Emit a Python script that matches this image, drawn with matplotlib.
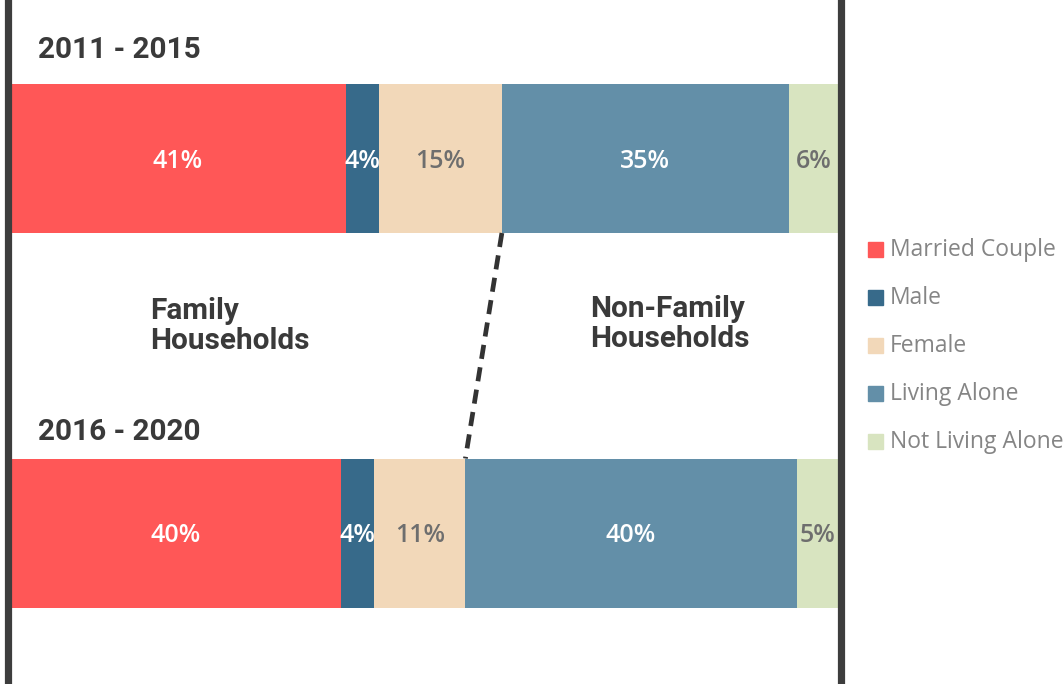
import matplotlib.pyplot as plt
from matplotlib.patches import Rectangle
import numpy as np

# Household composition shares (%) for the two survey periods
periods = ["2011 - 2015", "2016 - 2020"]
categories = ["Married Couple", "Male", "Female", "Living Alone", "Not Living Alone"]
shares_2011_2015 = [41, 4, 15, 35, 6]
shares_2016_2020 = [40, 4, 11, 40, 5]

colors = ["#FF5757", "#376A8A", "#F2D8B9", "#638FA8", "#D8E4C0"]
label_colors = ["white", "white", "#6e6e6e", "white", "#6e6e6e"]

W, H = 1063, 684
fig = plt.figure(figsize=(W / 100, H / 100), dpi=100)

# axes spans the bar area horizontally, full height vertically
x0_px, x1_px = 10, 838
ax = fig.add_axes([x0_px / W, 0, (x1_px - x0_px) / W, 1])
ax.set_xlim(0, 100)
top_c, step = 158.5, 374.5
ax.set_ylim((H - top_c) / step, (0 - top_c) / step)
ax.axis("off")

bar_h = 149 / step
rows = [shares_2011_2015, shares_2016_2020]
female_end = []
for i, row in enumerate(rows):
    vals = np.array(row, dtype=float)
    widths = vals / vals.sum() * 100  # each bar fills the full width
    lefts = np.concatenate([[0], np.cumsum(widths)[:-1]])
    ax.barh(i, widths, left=lefts, height=bar_h, color=colors, edgecolor="none")
    for v, w, l, tc in zip(row, widths, lefts, label_colors):
        ax.text(l + w / 2, i + 3 / step, f"{v}%", ha="center", va="center", color=tc,
                fontsize=18, fontweight="semibold", family="Open Sans")
    female_end.append(lefts[3])

# dashed divider between family and non-family households
ax.plot([female_end[0], female_end[1]], [0 + bar_h / 2, 1 - bar_h / 2],
        color="#333333", lw=3.4, ls=(0, (3, 1.8)), clip_on=False)

# vertical frame lines
for xp in (7.5, 841):
    ax.axvline((xp - x0_px) / (x1_px - x0_px) * 100, color="#3d3d3d", lw=5.2, clip_on=False)

title_kw = dict(fontsize=21.4, fontweight="bold", family="Roboto", color="#3a3a3a")
ax.text((38 - x0_px) / 8.28, (50 - top_c) / step, periods[0], va="center", ha="left", **title_kw)
ax.text((38 - x0_px) / 8.28, (432 - top_c) / step, periods[1], va="center", ha="left", **title_kw)
ax.text((150 - x0_px) / 8.28, (326 - top_c) / step, "Family\nHouseholds", va="center",
        ha="left", linespacing=1.1, **title_kw)
ax.text((590 - x0_px) / 8.28, (324 - top_c) / step, "Non-Family\nHouseholds", va="center",
        ha="left", linespacing=1.1, **title_kw)

# legend drawn in figure coordinates
leg_y = [249, 297, 345, 393, 441]
for cat, col, yp in zip(categories, colors, leg_y):
    fig.patches.append(Rectangle((868 / W, 1 - (yp + 7.5) / H), 15 / W, 15 / H,
                                 color=col, transform=fig.transFigure))
    fig.text(890 / W, 1 - (yp + 1.5) / H, cat, va="center", ha="left", fontsize=16.5,
             family="Open Sans", color="#858585")

plt.savefig("out.png", dpi=100)
